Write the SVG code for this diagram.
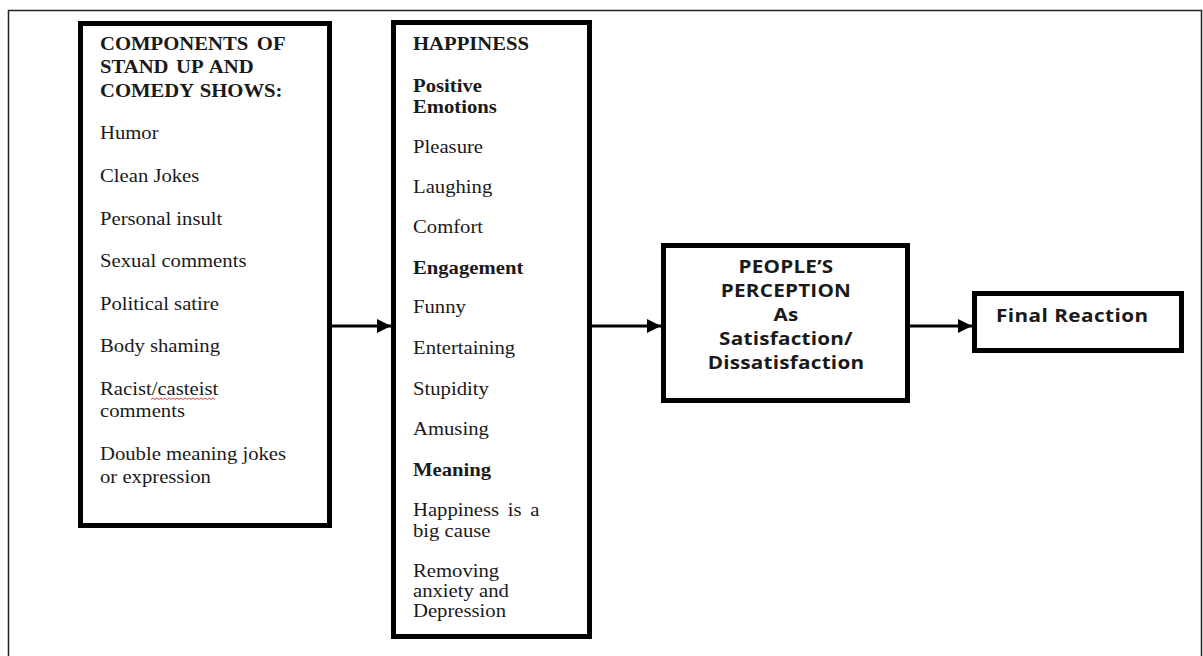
<svg xmlns="http://www.w3.org/2000/svg" width="1203" height="656" viewBox="0 0 1203 656">
<style>
.box{fill:#fff;stroke:#000;stroke-width:5}
.conn{stroke:#000;stroke-width:3;fill:none}
.s{font-family:"Liberation Serif","Times New Roman",serif;font-size:18px;fill:#1a1a1a}
.b{font-weight:bold}
.ss{font-family:"Open Sans","Liberation Sans",sans-serif;font-size:18px;font-weight:bold;fill:#1a1a1a}
</style>
<defs>
<marker id="ah" markerUnits="userSpaceOnUse" markerWidth="16" markerHeight="16" refX="14" refY="7" orient="auto">
<path d="M0,0 L14,7 L0,14 Z" fill="#000"/>
</marker>
</defs>
<rect x="0" y="0" width="1203" height="656" fill="#fff"/>
<path d="M8.5,656 V10.5 H1201.5 V656" fill="none" stroke="#222" stroke-width="1.5"/>

<g id="components">
<rect class="box" x="80.5" y="23.5" width="249" height="502"/>
<g transform="scale(1.15,1)">
<text class="s b" x="86.96" y="50" word-spacing="3">COMPONENTS OF</text>
<text class="s b" x="86.96" y="73" word-spacing="2">STAND UP AND</text>
<text class="s b" x="86.96" y="97" word-spacing="1">COMEDY SHOWS:</text>
<text class="s" x="86.96" y="139">Humor</text>
<text class="s" x="86.96" y="182">Clean Jokes</text>
<text class="s" x="86.96" y="225">Personal insult</text>
<text class="s" x="86.96" y="267">Sexual comments</text>
<text class="s" x="86.96" y="310">Political satire</text>
<text class="s" x="86.96" y="352">Body shaming</text>
<text class="s" x="86.96" y="395">Racist/casteist</text>
<text class="s" x="86.96" y="417">comments</text>
<text class="s" x="86.96" y="460">Double meaning jokes</text>
<text class="s" x="86.96" y="483">or expression</text>
</g>
<path d="M151,399.5 l2,-1.5 l2,1.5 l2,-1.5 l2,1.5 l2,-1.5 l2,1.5 l2,-1.5 l2,1.5 l2,-1.5 l2,1.5 l2,-1.5 l2,1.5 l2,-1.5 l2,1.5 l2,-1.5 l2,1.5 l2,-1.5 l2,1.5 l2,-1.5 l2,1.5 l2,-1.5 l2,1.5 l2,-1.5 l2,1.5 l2,-1.5 l2,1.5 l2,-1.5 l2,1.5 l2,-1.5 l2,1.5 l2,-1.5 l2,1.5" fill="none" stroke="#e03030" stroke-width="0.9"/>
</g>

<g id="happiness">
<rect class="box" x="393.5" y="22.5" width="196" height="614"/>
<g transform="scale(1.15,1)">
<text class="s b" x="359.13" y="50">HAPPINESS</text>
<text class="s b" x="359.13" y="92">Positive</text>
<text class="s b" x="359.13" y="113">Emotions</text>
<text class="s" x="359.13" y="153">Pleasure</text>
<text class="s" x="359.13" y="193">Laughing</text>
<text class="s" x="359.13" y="233">Comfort</text>
<text class="s b" x="359.13" y="274">Engagement</text>
<text class="s" x="359.13" y="313">Funny</text>
<text class="s" x="359.13" y="354">Entertaining</text>
<text class="s" x="359.13" y="395">Stupidity</text>
<text class="s" x="359.13" y="435">Amusing</text>
<text class="s b" x="359.13" y="476">Meaning</text>
<text class="s" x="359.13" y="516" word-spacing="3">Happiness is a</text>
<text class="s" x="359.13" y="537">big cause</text>
<text class="s" x="359.13" y="577">Removing</text>
<text class="s" x="359.13" y="597">anxiety and</text>
<text class="s" x="359.13" y="617">Depression</text>
</g>
</g>

<g id="perception">
<rect class="box" x="663.5" y="245.5" width="244" height="155"/>
<g transform="scale(1.15,1)" text-anchor="middle">
<text class="ss" x="683.48" y="273" letter-spacing="0.2">PEOPLE’S</text>
<text class="ss" x="683.48" y="297" letter-spacing="0.2">PERCEPTION</text>
<text class="ss" x="683.48" y="321" letter-spacing="0.2">As</text>
<text class="ss" x="683.48" y="345" letter-spacing="0.2">Satisfaction/</text>
<text class="ss" x="683.48" y="369" letter-spacing="0.2">Dissatisfaction</text>
</g>
</g>

<g id="reaction">
<rect class="box" x="974.5" y="293.5" width="207" height="57"/>
<g transform="scale(1.15,1)">
<text class="ss" x="866.09" y="322" letter-spacing="0.4">Final Reaction</text>
</g>
</g>

<g id="connectors">
<line class="conn" x1="332" y1="326" x2="391" y2="326" marker-end="url(#ah)"/>
<line class="conn" x1="592" y1="326" x2="661" y2="326" marker-end="url(#ah)"/>
<line class="conn" x1="910" y1="326" x2="972" y2="326" marker-end="url(#ah)"/>
</g>
</svg>
